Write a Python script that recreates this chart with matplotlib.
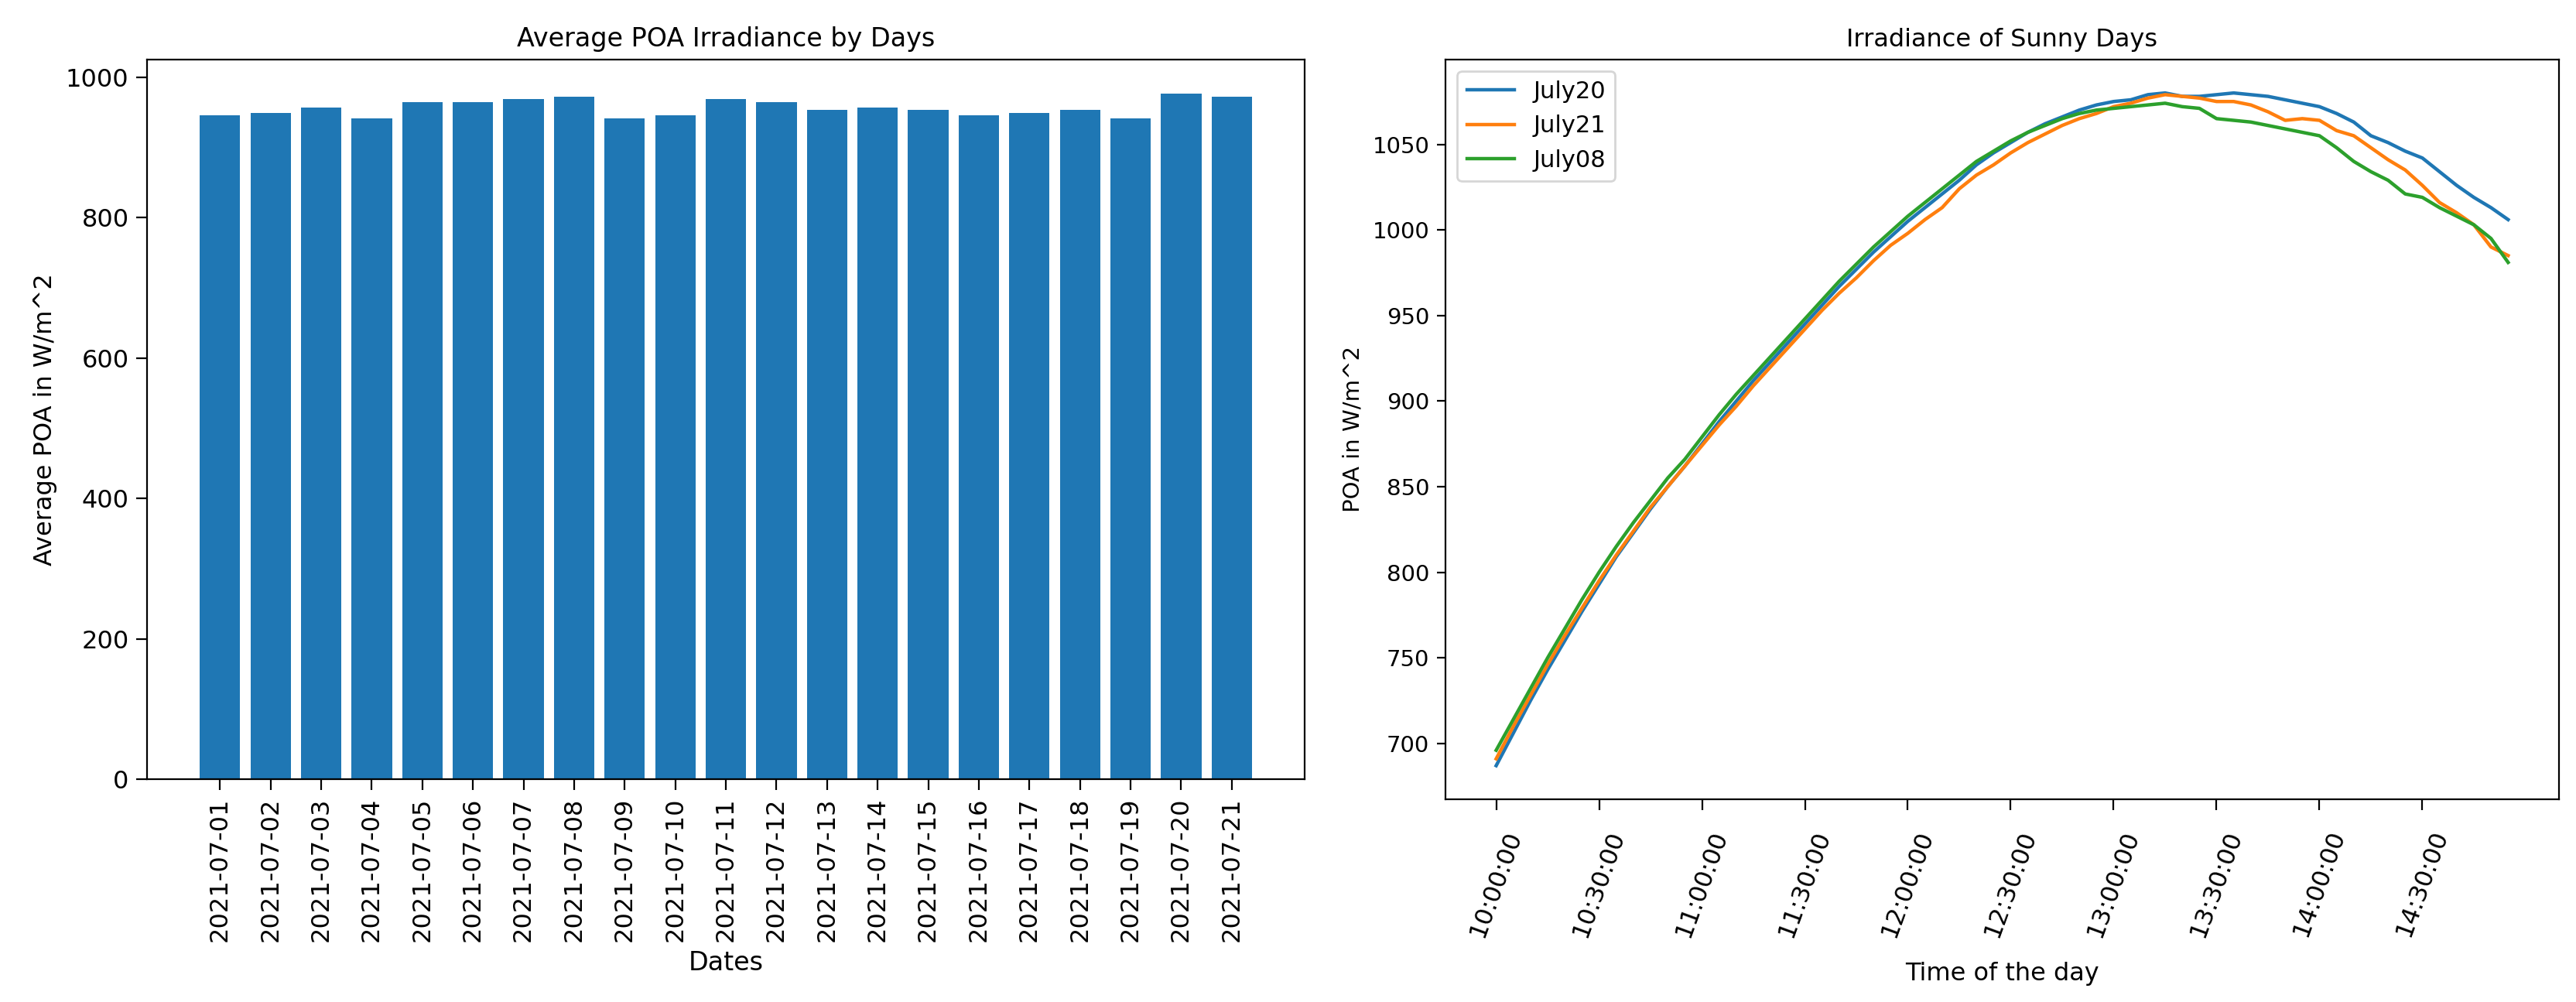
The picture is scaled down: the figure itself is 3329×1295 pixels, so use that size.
import matplotlib
matplotlib.use("Agg")
import matplotlib.pyplot as plt
from matplotlib import font_manager

# narrow face for the horizontal texts (the source picture is squeezed sideways)
names = {f.name for f in font_manager.fontManager.ttflist}
narrow = 'Liberation Sans Narrow' if 'Liberation Sans Narrow' in names else 'DejaVu Sans'

# ---- data: average POA per day ----
dates = ['2021-07-01', '2021-07-02', '2021-07-03', '2021-07-04', '2021-07-05',
         '2021-07-06', '2021-07-07', '2021-07-08', '2021-07-09', '2021-07-10',
         '2021-07-11', '2021-07-12', '2021-07-13', '2021-07-14', '2021-07-15',
         '2021-07-16', '2021-07-17', '2021-07-18', '2021-07-19', '2021-07-20',
         '2021-07-21']
avg_poa = [946, 949, 957, 942, 965, 965, 969, 972, 942, 946, 969,
           965, 954, 957, 954, 946, 949, 954, 942, 977, 972]

# ---- data: irradiance of sunny days, every 5 minutes from 10:00 ----
minutes = list(range(0, 300, 5))
times = ['%02d:%02d:00' % (10 + m // 60, m % 60) for m in minutes]

july20 = [687, 706, 725, 743, 760, 777, 793, 809, 823, 837,
          850, 862, 875, 888, 900, 912, 923, 934, 945, 956,
          967, 977, 987, 996, 1005, 1013, 1021, 1029, 1038, 1045,
          1051, 1057, 1062, 1066, 1070, 1073, 1075, 1076, 1079, 1080,
          1078, 1078, 1079, 1080, 1079, 1078, 1076, 1074, 1072, 1068,
          1063, 1055, 1051, 1046, 1042, 1034, 1026, 1019, 1013, 1006]

july21 = [691, 710, 728, 746, 763, 779, 795, 810, 824, 838,
          850, 862, 874, 886, 897, 909, 920, 931, 942, 953,
          963, 972, 982, 991, 998, 1006, 1013, 1024, 1032, 1038,
          1045, 1051, 1056, 1061, 1065, 1068, 1072, 1074, 1077, 1079,
          1078, 1077, 1075, 1075, 1073, 1069, 1064, 1065, 1064, 1058,
          1055, 1048, 1041, 1035, 1026, 1016, 1010, 1003, 990, 985]

july08 = [696, 714, 732, 750, 767, 784, 800, 815, 829, 842,
          855, 866, 879, 892, 904, 915, 926, 937, 948, 959,
          970, 980, 990, 999, 1008, 1016, 1024, 1032, 1040, 1046,
          1052, 1057, 1061, 1065, 1068, 1070, 1071, 1072, 1073, 1074,
          1072, 1071, 1065, 1064, 1063, 1061, 1059, 1057, 1055, 1048,
          1040, 1034, 1029, 1021, 1019, 1013, 1008, 1003, 995, 981]

fig = plt.figure(figsize=(16.65, 6.475), dpi=200)

# left: bar chart
ax1 = fig.add_axes([0.0571, 0.2224, 0.4492, 0.7184])
ax1.bar(dates, avg_poa, color='#1f77b4')
ax1.set_title('Average POA Irradiance by Days', fontsize=12, family=narrow)
ax1.set_xlabel('Dates', fontsize=12, family=narrow)
ax1.set_ylabel('Average POA in W/m^2', fontsize=11.5)
ax1.tick_params(axis='x', rotation=90, labelsize=11.5, length=5)
ax1.tick_params(axis='y', labelsize=11.5, length=5)
for lab in ax1.get_yticklabels():
    lab.set_family(narrow)

# right: line chart
ax2 = fig.add_axes([0.561, 0.2023, 0.432, 0.7385])
ax2.plot(minutes, july20, label='July20', lw=1.6)
ax2.plot(minutes, july21, label='July21', lw=1.6)
ax2.plot(minutes, july08, label='July08', lw=1.6)
ax2.set_xticks(minutes[::6])
ax2.set_xticklabels(times[::6], rotation=70, fontsize=11.5)
ax2.tick_params(axis='x', length=5, pad=8)
ax2.tick_params(axis='y', labelsize=10.5, length=4)
for lab in ax2.get_yticklabels():
    lab.set_family(narrow)
ax2.set_title('Irradiance of Sunny Days', fontsize=11.5, family=narrow)
ax2.set_xlabel('Time of the day', fontsize=11.5, family=narrow, labelpad=10)
ax2.set_ylabel('POA in W/m^2', fontsize=10.5)
ax2.legend(loc='upper left', prop={'family': narrow, 'size': 11})

fig.savefig('out.png', dpi=200)
